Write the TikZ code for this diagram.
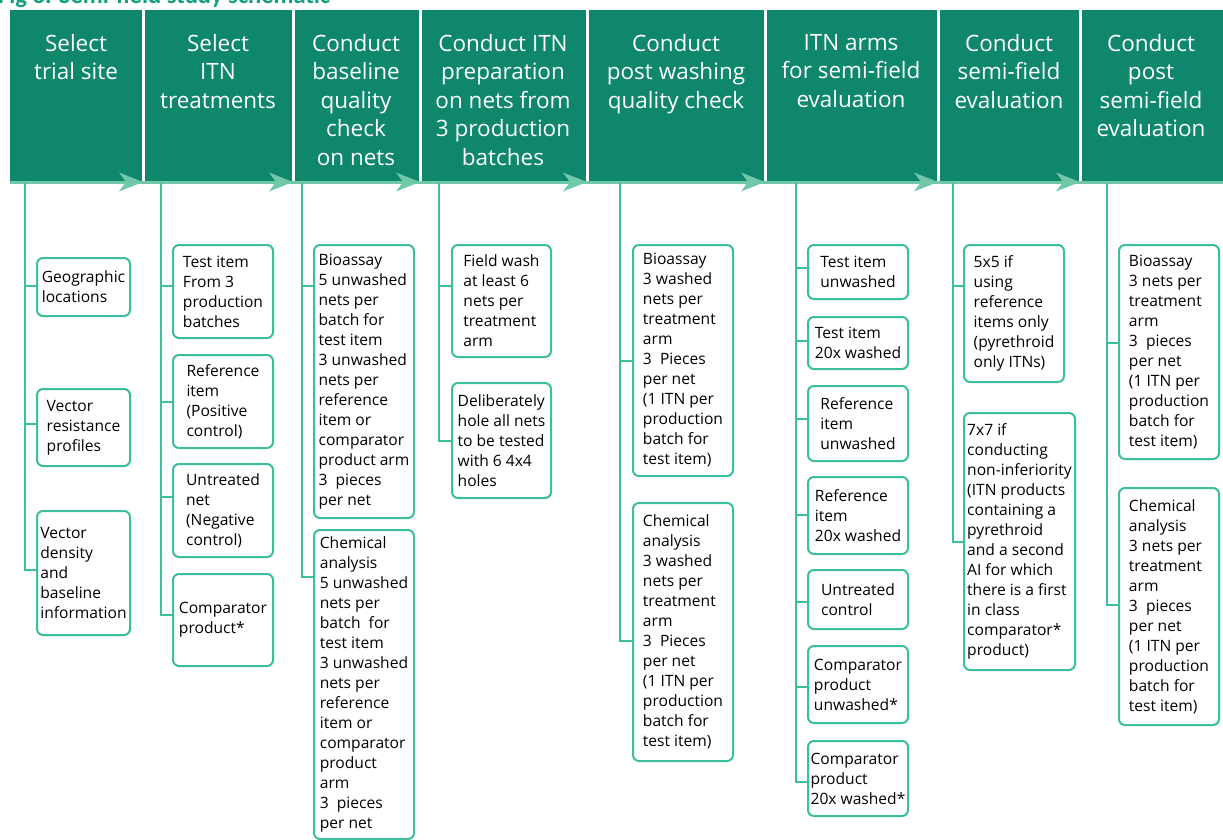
\documentclass[tikz,border=0pt]{standalone}
\usepackage{fontspec}
\setmainfont{Open Sans}
\newfontfamily\titlefont{Carlito}

\definecolor{hdrgreen}{RGB}{14,135,108}
\definecolor{linkgreen}{RGB}{58,190,157}
\definecolor{arrowgreen}{RGB}{112,200,168}
\definecolor{titlegreen}{RGB}{18,160,124}

\tikzset{
	stage/.style={anchor=north, align=center, text=white, inner sep=0pt,
		font=\fontsize{22.5}{28.5}\selectfont},
	itembox/.style={draw=linkgreen, line width=2pt, rounded corners=6pt, fill=white,
		anchor=north west, align=left, inner xsep=2pt, inner ysep=2pt,
		minimum width=100pt, font=\fontsize{15.6}{20}\selectfont},
	link/.style={draw=linkgreen, line width=2pt},
}

\begin{document}
\begin{tikzpicture}[x=1pt, y=-1pt]
	\useasboundingbox (0,0) rectangle (1223,840);

	\node (title) at (-2,4) [anchor=base west, inner sep=0pt, text=titlegreen,
		font=\titlefont\bfseries\fontsize{24.5}{28}\selectfont] {Fig 3. Semi-field study schematic};

	% header band
	\fill [hdrgreen] (10,10) rectangle (1223,182);

	\foreach \x in {143,293,420,587,765,938,1080}
		\draw [white, line width=3pt] (\x,10) -- (\x,181);

	\draw [arrowgreen, line width=2.5pt] (10,182.5) -- (1223,182.5);

	\foreach \x in {143,293,420,587,765,938,1080}
		\fill [arrowgreen]
			(\x,182) -- ++(-24,-9.5) -- ++(7,9.5) -- ++(-7,9.5) -- cycle;

	\node (s1) at (76,34) [stage] {Select\\trial site};
	\node (s2) at (218,34) [stage] {Select\\ITN\\treatments};
	\node (s3) at (356,34) [stage] {Conduct\\baseline\\quality\\check\\on nets};
	\node (s4) at (503,34) [stage] {Conduct ITN\\preparation\\on nets from\\3 production\\batches};
	\node (s5) at (676,34) [stage] {Conduct\\post washing\\quality check};
	\node (s6) at (851,34) [stage] {ITN arms\\for semi-field\\evaluation};
	\node (s7) at (1009,34) [stage] {Conduct\\semi-field\\evaluation};
	\node (s8) at (1151,34) [stage] {Conduct\\post\\semi-field\\evaluation};

	% trunk tops
	\coordinate (t1) at (25,183);
	\coordinate (t2) at (161,183);
	\coordinate (t3) at (302,183);
	\coordinate (t4) at (439,183);
	\coordinate (t5) at (620,183);
	\coordinate (t6) at (796,183);
	\coordinate (t7) at (953,183);
	\coordinate (t8) at (1107,183);

	% select trial site
	\node (geo) at (36,257) [itembox, minimum width=93pt, minimum height=58pt] {Geographic\\locations};
	\node (vres) at (36,388) [itembox, minimum width=93pt, minimum height=77pt] {Vector\\resistance\\profiles};
	\node (vden) at (36,510) [itembox, minimum width=93pt, minimum height=124pt] {Vector\\density\\and\\baseline\\information};

	% select ITN treatments
	\node (test) at (172,244) [itembox, minimum height=93pt] {Test item\\From 3\\production\\batches};
	\node (ref) at (172,354) [itembox, minimum height=93pt] {Reference\\item\\(Positive\\control)};
	\node (untr) at (172,463) [itembox, minimum height=93pt] {Untreated\\net\\(Negative\\control)};
	\node (comp) at (172,573) [itembox, minimum height=92pt] {Comparator\\product*};

	% baseline quality check
	\node (bio3) at (313,244) [itembox, minimum height=273pt]
		{Bioassay\\5 unwashed\\nets per\\batch for\\test item\\3 unwashed\\nets per\\reference\\item or\\comparator\\product arm\\3\ \ pieces\\per net};
	\node (chem3) at (313,529) [itembox, minimum height=309pt]
		{Chemical\\analysis\\5 unwashed\\nets per\\batch\ \ for\\test item\\3 unwashed\\nets per\\reference\\item or\\comparator\\product\\arm\\3\ \ pieces\\per net};

	% ITN preparation
	\node (wash) at (451,244) [itembox, minimum width=99pt, minimum height=112pt]
		{Field wash\\at least 6\\nets per\\treatment\\arm};
	\node (hole) at (451,382) [itembox, minimum width=99pt, minimum height=115pt]
		{Deliberately\\hole all nets\\to be tested\\with 6 4x4\\holes};

	% post washing quality check
	\node (bio5) at (632,244) [itembox, minimum height=231pt]
		{Bioassay\\3 washed\\nets per\\treatment\\arm\\3\ \ Pieces\\per net\\(1 ITN per\\production\\batch for\\test item)};
	\node (chem5) at (632,502) [itembox, minimum height=258pt]
		{Chemical\\analysis\\3 washed\\nets per\\treatment\\arm\\3\ \ Pieces\\per net\\(1 ITN per\\production\\batch for\\test item)};

	% ITN arms
	\node (arm1) at (807,244) [itembox, minimum height=54pt] {Test item\\unwashed};
	\node (arm2) at (807,316) [itembox, minimum height=52pt] {Test item\\20x washed};
	\node (arm3) at (807,385) [itembox, minimum height=75pt] {Reference\\item\\unwashed};
	\node (arm4) at (807,476) [itembox, minimum height=77pt] {Reference\\item\\20x washed};
	\node (arm5) at (807,569) [itembox, minimum height=59pt] {Untreated\\control};
	\node (arm6) at (807,645) [itembox, minimum height=77pt] {Comparator\\product\\unwashed*};
	\node (arm7) at (807,740) [itembox, minimum height=75pt] {Comparator\\product\\20x washed*};

	% semi-field evaluation
	\node (five) at (963,244) [itembox, minimum height=137pt]
		{5x5 if\\using\\reference\\items only\\(pyrethroid\\only ITNs)};
	\node (seven) at (963,412) [itembox, minimum width=111pt, minimum height=257pt]
		{7x7 if\\conducting\\non-inferiority\\(ITN products\\containing a\\pyrethroid\\and a second\\AI for which\\there is a first\\in class\\comparator*\\product)};

	% post semi-field evaluation
	\node (bio8) at (1118,244) [itembox, minimum height=214pt]
		{Bioassay\\3 nets per\\treatment\\arm\\3\ \ pieces\\per net\\(1 ITN per\\production\\batch for\\test item)};
	\node (chem8) at (1118,487) [itembox, minimum height=237pt]
		{Chemical\\analysis\\3 nets per\\treatment\\arm\\3\ \ pieces\\per net\\(1 ITN per\\production\\batch for\\test item)};

	% connectors
	\foreach \b/\d in {geo/29, vres/36, vden/60}
		\draw [link] (t1) |- ([yshift=-\d]\b.north west);
	\foreach \b/\d in {test/42, ref/48, untr/34, comp/42}
		\draw [link] (t2) |- ([yshift=-\d]\b.north west);
	\foreach \b/\d in {bio3/42, chem3/48}
		\draw [link] (t3) |- ([yshift=-\d]\b.north west);
	\foreach \b/\d in {wash/42, hole/59}
		\draw [link] (t4) |- ([yshift=-\d]\b.north west);
	\foreach \b/\d in {bio5/117, chem5/139}
		\draw [link] (t5) |- ([yshift=-\d]\b.north west);
	\foreach \b/\d in {arm1/24, arm2/25, arm3/34, arm4/39, arm5/33, arm6/42, arm7/42}
		\draw [link] (t6) |- ([yshift=-\d]\b.north west);
	\foreach \b/\d in {five/42, seven/130}
		\draw [link] (t7) |- ([yshift=-\d]\b.north west);
	\foreach \b/\d in {bio8/99, chem8/118}
		\draw [link] (t8) |- ([yshift=-\d]\b.north west);
\end{tikzpicture}
\end{document}
